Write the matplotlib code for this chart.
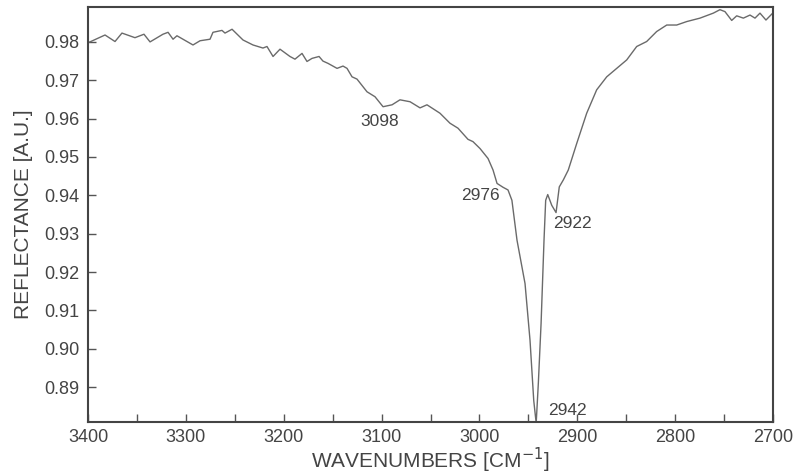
import numpy as np
import matplotlib
matplotlib.use("Agg")
import matplotlib.pyplot as plt
from matplotlib.ticker import MultipleLocator

plt.rcParams['font.family'] = ['Liberation Sans', 'DejaVu Sans']

# spectrum (wavenumber, reflectance)
wavenumber = [3400, 3398, 3382.6, 3372.4, 3365.3, 3352.0, 3342.8, 3336.6, 3323.4, 3318.2,
              3313.1, 3309.1, 3292.7, 3285.5, 3275.3, 3272.3, 3263.1, 3260.0, 3252.8, 3241.6,
              3231.4, 3221.2, 3217.1, 3210.9, 3203.8, 3193.6, 3188.5, 3181.3, 3176.2, 3171.1,
              3163.9, 3159.9, 3154.7, 3145.5, 3139.4, 3135.3, 3130.2, 3125.1, 3114.9, 3106.7,
              3098.5, 3089.3, 3081.2, 3070.9, 3060.7, 3053.6, 3040.3, 3030.1, 3021.9, 3011.7,
              3006.6, 2999.4, 2991.2, 2986.1, 2982.0, 2975.9, 2970.8, 2966.8, 2961.6, 2953.4,
              2948.3, 2944.5, 2942.0, 2939.8, 2937.0, 2934.0, 2932.3, 2930.2, 2926.1, 2921.7,
              2918.4, 2914.3, 2909.2, 2900.6, 2890.4, 2880.2, 2869.9, 2859.7, 2849.5, 2839.3,
              2829.1, 2818.9, 2808.6, 2798.4, 2788.2, 2774.6, 2761.0, 2754.2, 2749.1, 2742.2,
              2737.1, 2730.3, 2723.5, 2718.4, 2713.3, 2707.2, 2700.3]
reflectance = [0.9798, 0.9800, 0.9818, 0.9801, 0.9823, 0.9811, 0.9820, 0.9800, 0.9820, 0.9825,
               0.9807, 0.9816, 0.9792, 0.9803, 0.9807, 0.9825, 0.9830, 0.9823, 0.9833, 0.9805,
               0.9792, 0.9784, 0.9788, 0.9762, 0.9781, 0.9762, 0.9755, 0.9770, 0.9749, 0.9757,
               0.9762, 0.9750, 0.9744, 0.9731, 0.9737, 0.9731, 0.9709, 0.9703, 0.9670, 0.9657,
               0.9631, 0.9636, 0.9649, 0.9644, 0.9628, 0.9636, 0.9614, 0.9588, 0.9575, 0.9546,
               0.9540, 0.9522, 0.9496, 0.9466, 0.9431, 0.9421, 0.9414, 0.9387, 0.9283, 0.9170,
               0.9022, 0.8865, 0.8806, 0.8910, 0.9066, 0.9283, 0.9387, 0.9402, 0.9374, 0.9355,
               0.9422, 0.9440, 0.9466, 0.9535, 0.9614, 0.9675, 0.9709, 0.9731, 0.9753, 0.9788,
               0.9801, 0.9827, 0.9844, 0.9844, 0.9853, 0.9862, 0.9875, 0.9884, 0.9879, 0.9856,
               0.9868, 0.9862, 0.9870, 0.9862, 0.9875, 0.9857, 0.9875]

# peak labels: text, x, y (data coords of the text centre)
peak_text = ['3098', '2976', '2922', '2942']
peak_x = [3102, 2999, 2905, 2910]
peak_y = [0.9592, 0.9400, 0.9327, 0.8840]

text_col = '#444444'

fig = plt.figure(figsize=(7.99, 4.76), dpi=100)
ax = fig.add_axes([88 / 799, 1 - 422 / 476, 685 / 799, 415 / 476])

ax.plot(wavenumber, reflectance, color='#6a6a6a', lw=1.0)

for t, x, y in zip(peak_text, peak_x, peak_y):
    ax.text(x, y, t, ha='center', va='center', fontsize=12.5, color=text_col)

ax.set_xlim(3400, 2700)
ax.set_ylim(0.8809, 0.9891)
ax.xaxis.set_major_locator(MultipleLocator(100))
ax.xaxis.set_minor_locator(MultipleLocator(50))
ax.set_yticks([0.89, 0.90, 0.91, 0.92, 0.93, 0.94, 0.95, 0.96, 0.97, 0.98])
ax.set_yticklabels(['0.89', '0.90', '0.91', '0.92', '0.93', '0.94', '0.95', '0.96', '0.97', '0.98'])

ax.tick_params(axis='both', which='both', direction='in', colors='#555555',
               labelcolor=text_col, labelsize=13, width=1)
ax.tick_params(axis='x', which='major', length=6, pad=5)
ax.tick_params(axis='x', which='minor', length=6)
ax.tick_params(axis='y', which='major', length=6, pad=6)

for s in ax.spines.values():
    s.set_color('#444444')
    s.set_linewidth(1.5)

ax.set_xlabel('WAVENUMBERS [CM$^{-1}$]', fontsize=15, color=text_col, labelpad=0)
ax.set_ylabel('REFLECTANCE [A.U.]', fontsize=15, color=text_col, labelpad=8)

fig.savefig('out.png', dpi=100)
